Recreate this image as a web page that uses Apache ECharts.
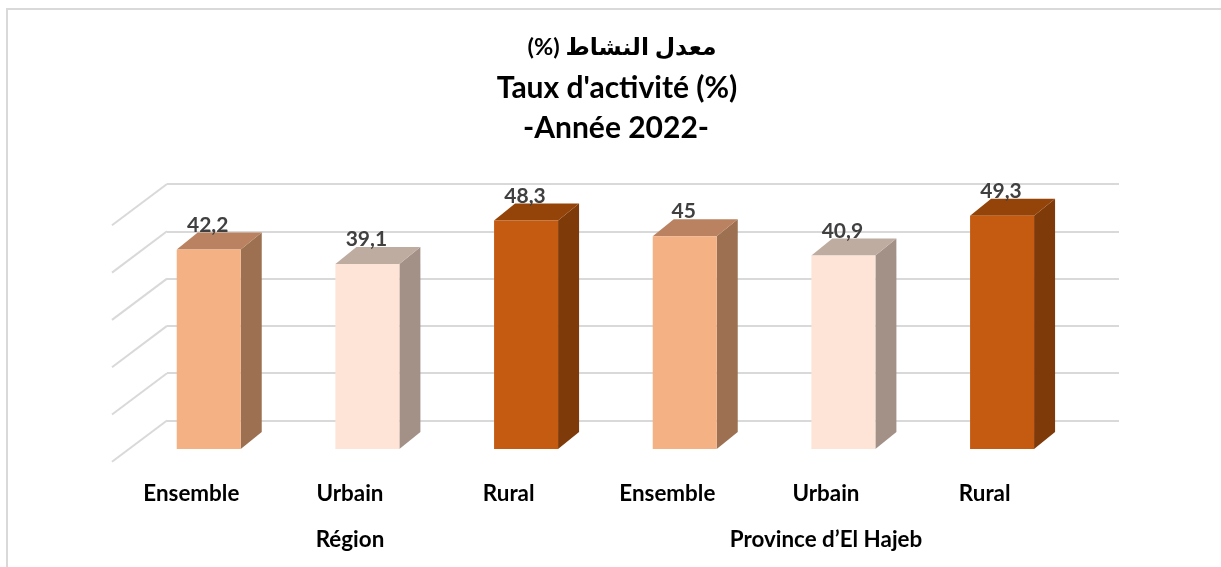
<!DOCTYPE html>
<html><head><meta charset="utf-8">
<style>html,body{margin:0;padding:0;background:#fff}#c{width:1221px;height:567px}</style>
<script src="https://cdn.jsdelivr.net/npm/echarts@6/dist/echarts.min.js"></script>
</head><body><div id="c"></div>
<script>
var titleLines = ['\u200Fمعدل النشاط (%)\u200F', 'Taux d\'activité (%)', '-Année 2022-'];
var categories = ['Ensemble','Urbain','Rural','Ensemble','Urbain','Rural'];
var groups = ['','Région','','','Province d’El Hajeb',''];
var values = [42.2,39.1,48.3,45,40.9,49.3];
var yTicks = [0,10,20,30,40,50];
var frontColors = ['#F4B183','#FDE4D6','#C55A11','#F4B183','#FDE4D6','#C55A11'];
var sideColors  = ['#9C7050','#A39087','#7F3A0A','#9C7050','#A39087','#7F3A0A'];
var topColors   = ['#BA8260','#BFACA1','#944409','#BA8260','#BFACA1','#944409'];

var font = "Lato, 'DejaVu Sans', sans-serif";
var chart = echarts.init(document.getElementById('c'), null, {renderer:'canvas'});
// 3D projection offsets relative to the back wall
var FRONT = {dx:-37.6, dy:28.5}, BACK = {dx:-16.6, dy:11.5}, HALF = 32;

function titleItem(text, left, top, size){
  return {text:text, left:left, top:top, textAlign:'center',
    textStyle:{fontFamily:font, fontWeight:'bold', fontSize:size, color:'#000'}};
}

chart.setOption({
  animation:false,
  backgroundColor:'#fff',
  title:[titleItem(titleLines[0],617,30,23.5), titleItem(titleLines[1],612,68,30), titleItem(titleLines[2],611,108,30)],
  graphic:[{type:'polyline', silent:true, z:-1,
    shape:{points:[[7,567],[7,9],[1221,9]]},
    style:{stroke:'#d9d9d9', lineWidth:2, fill:null}}],
  grid:[
    {left:167, top:184, width:952, height:236.5},
    {left:112, top:420, width:952, height:41.7}
  ],
  xAxis:[
    {gridIndex:0, type:'category', data:categories, axisLine:{show:false}, axisTick:{show:false}, axisLabel:{show:false}},
    {gridIndex:1, type:'category', data:categories, position:'bottom', axisLine:{show:false}, axisTick:{show:false},
     axisLabel:{interval:0, margin:21, fontFamily:font, fontWeight:'bold', fontSize:22.4, color:'#000'}},
    {gridIndex:1, type:'category', data:groups, position:'bottom', axisLine:{show:false}, axisTick:{show:false},
     axisLabel:{interval:0, margin:67, fontFamily:font, fontWeight:'bold', fontSize:22.4, color:'#000'}}
  ],
  yAxis:[
    {gridIndex:0, type:'value', min:0, max:50, interval:10, axisLine:{show:false}, axisTick:{show:false}, axisLabel:{show:false},
     splitLine:{show:true, lineStyle:{color:'#d9d9d9', width:2}}},
    {gridIndex:1, type:'value', show:false, splitLine:{show:false}}
  ],
  series:[
    {type:'custom', xAxisIndex:0, yAxisIndex:0, coordinateSystem:'cartesian2d', silent:true, z:1,
     data:yTicks.map(function(t){return [0,t];}),
     renderItem:function(p,api){
       var y = api.coord([0,api.value(1)])[1], x = p.coordSys.x;
       return {type:'line', shape:{x1:x,y1:y,x2:x-55,y2:y+41.3},
         style:{stroke:'#d9d9d9', lineWidth:2}};
     }},
    {type:'custom', xAxisIndex:0, yAxisIndex:0, coordinateSystem:'cartesian2d', silent:true, z:3,
     data:values.map(function(v,i){return [i,v];}),
     renderItem:function(p,api){
       var i = api.value(0), v = api.value(1);
       var t = api.coord([i,v]), b = api.coord([i,0]);
       var fx = t[0]+FRONT.dx, l = fx-HALF, r = fx+HALF;
       var ft = t[1]+FRONT.dy, fb = b[1]+FRONT.dy;
       var ddx = BACK.dx-FRONT.dx, ddy = BACK.dy-FRONT.dy;
       return {type:'group', children:[
         {type:'polygon', shape:{points:[[r,ft],[r+ddx,ft+ddy],[r+ddx,fb+ddy],[r,fb]]}, style:{fill:sideColors[i]}},
         {type:'polygon', shape:{points:[[l,ft],[l+ddx,ft+ddy],[r+ddx,ft+ddy],[r,ft]]}, style:{fill:topColors[i]}},
         {type:'rect', shape:{x:l,y:ft,width:r-l,height:fb-ft}, style:{fill:frontColors[i]}},
         {type:'text', z2:10, style:{x:fx-1, y:ft-24.5, text:String(v).replace('.',','),
            align:'center', verticalAlign:'middle', fontFamily:font, fontWeight:'bold', fontSize:21, fill:'#404040'}}
       ]};
     }}
  ]
});
</script></body></html>
